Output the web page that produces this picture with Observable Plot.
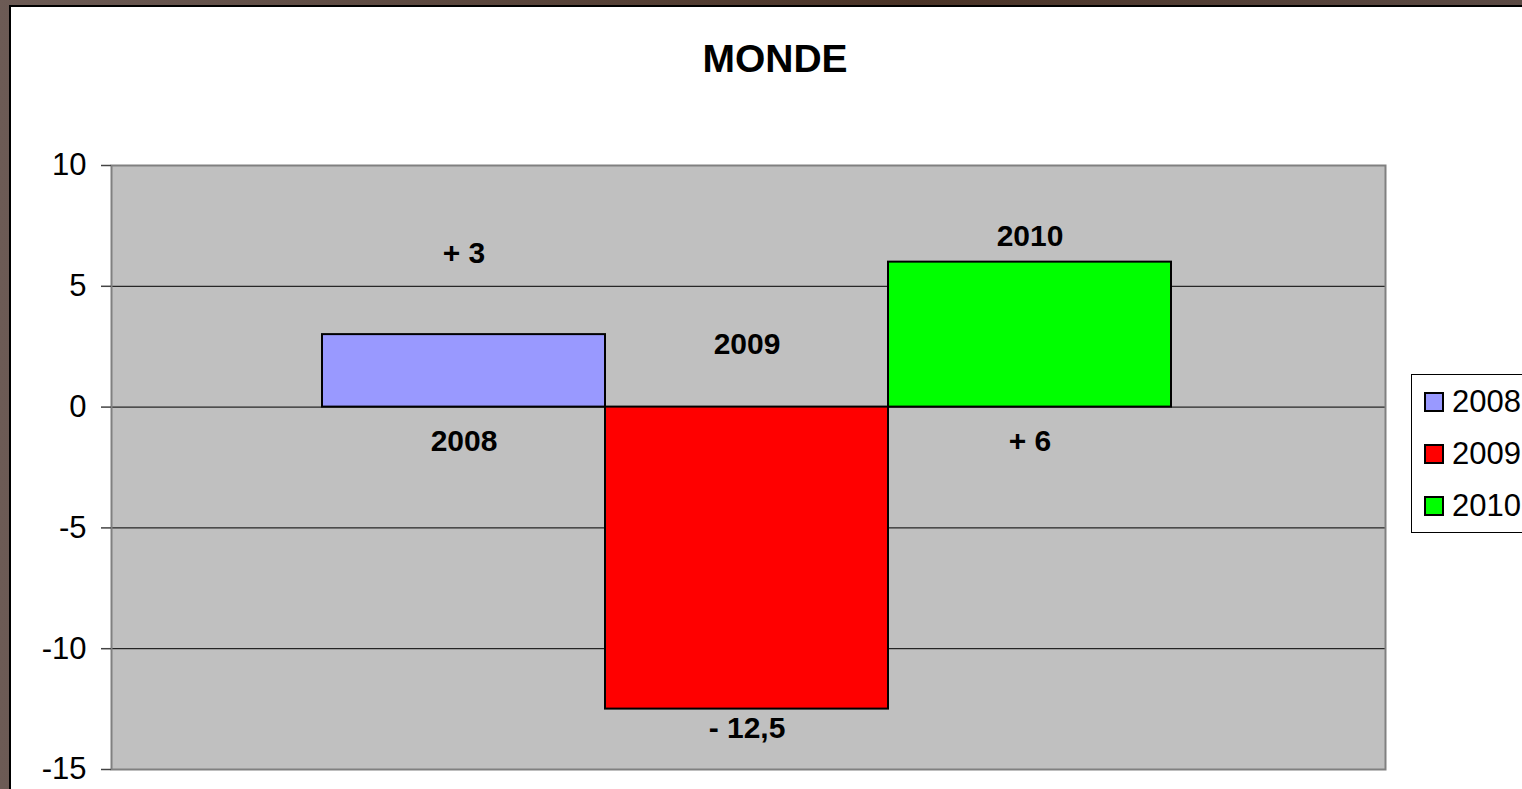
<!DOCTYPE html>
<html>
<head>
<meta charset="utf-8">
<script src="https://cdn.jsdelivr.net/npm/d3@7"></script>
<script src="https://cdn.jsdelivr.net/npm/@observablehq/plot@0.6"></script>
<style>
  html, body { margin: 0; padding: 0; width: 1522px; height: 789px; overflow: hidden; }
  body { background: linear-gradient(90deg, #6c5b55 0%, #4a3326 60%, #5b4a44 100%); position: relative; font-family: "Liberation Sans", Arial, sans-serif; }
  #frame { position: absolute; left: 9px; top: 5px; width: 1530px; height: 800px; background: #fff; border-left: 2px solid #000; border-top: 2px solid #000; }
  #title { position: absolute; left: 0; width: 1550px; top: 37px; text-align: center; font-size: 39px; font-weight: bold; color: #000; line-height: 44px; }
  #chart { position: absolute; left: 0; top: 0; }
  #legend { position: absolute; left: 1411px; top: 374px; width: 140px; height: 159px; border: 1px solid #000; background: #fff; box-sizing: border-box; }
  .item { position: absolute; left: 12px; display: flex; align-items: center; font-size: 31px; color: #000; height: 34px; }
  .sw { width: 16px; height: 16px; border: 2px solid #000; margin-right: 8px; }
</style>
</head>
<body>
<div id="frame"></div>
<div id="title">MONDE</div>
<div id="chart"></div>
<div id="legend"></div>
<script>
// Data
const years = ["2008", "2009", "2010"];
const values = [3, -12.5, 6];
const colors = ["#9999FF", "#FF0000", "#00FF00"];
const yTicks = [-15, -10, -5, 0, 5, 10];
// data labels as shown in the picture (text, category, vertical value where drawn)
const labelText = ["+ 3", "2008", "2009", "- 12,5", "2010", "+ 6"];
const labelYear = ["2008", "2008", "2009", "2009", "2010", "2010"];
const labelAt   = [6.35, -1.44, 2.61, -13.3, 7.06, -1.42];

const bars = years.map((y, i) => ({year: y, value: values[i]}));
const labels = labelText.map((t, i) => ({text: t, year: labelYear[i], at: labelAt[i]}));

const chart = Plot.plot({
  width: 1522,
  height: 789,
  marginLeft: 111,
  marginRight: 137,
  marginTop: 165,
  marginBottom: 20,
  style: {background: "transparent", fontFamily: "'Liberation Sans', Arial, sans-serif", overflow: "visible"},
  x: {domain: years, range: [322, 1171], padding: 0, round: false, axis: null},
  y: {domain: [-15, 10], axis: null},
  color: {domain: years, range: colors},
  marks: [
    Plot.frame({fill: "#C0C0C0", stroke: "none"}),
    Plot.ruleY(yTicks.filter(t => t > -15 && t < 10), {stroke: "#000", strokeWidth: 1}),
    Plot.frame({stroke: "#808080", strokeWidth: 2, fill: "none"}),
    Plot.axisY(yTicks, {tickSize: 10, tickPadding: 15, fontSize: 31, stroke: "#444", fill: "#000", strokeWidth: 1.5, tickFormat: d => String(d).replace("−", "-")}),
    Plot.barY(bars, {x: "year", y: "value", fill: "year", stroke: "#000", strokeWidth: 2, insetLeft: 0, insetRight: 0}),
    Plot.text(labels, {x: "year", y: "at", text: "text", fontSize: 30, fontWeight: "bold", fill: "#000"})
  ]
});
document.getElementById("chart").appendChild(chart);

// Legend
const legend = document.getElementById("legend");
years.forEach((y, i) => {
  const it = document.createElement("div");
  it.className = "item";
  it.style.top = (10 + i * 52) + "px";
  const sw = document.createElement("div");
  sw.className = "sw";
  sw.style.background = colors[i];
  const tx = document.createElement("span");
  tx.textContent = y;
  it.appendChild(sw);
  it.appendChild(tx);
  legend.appendChild(it);
});
</script>
</body>
</html>
